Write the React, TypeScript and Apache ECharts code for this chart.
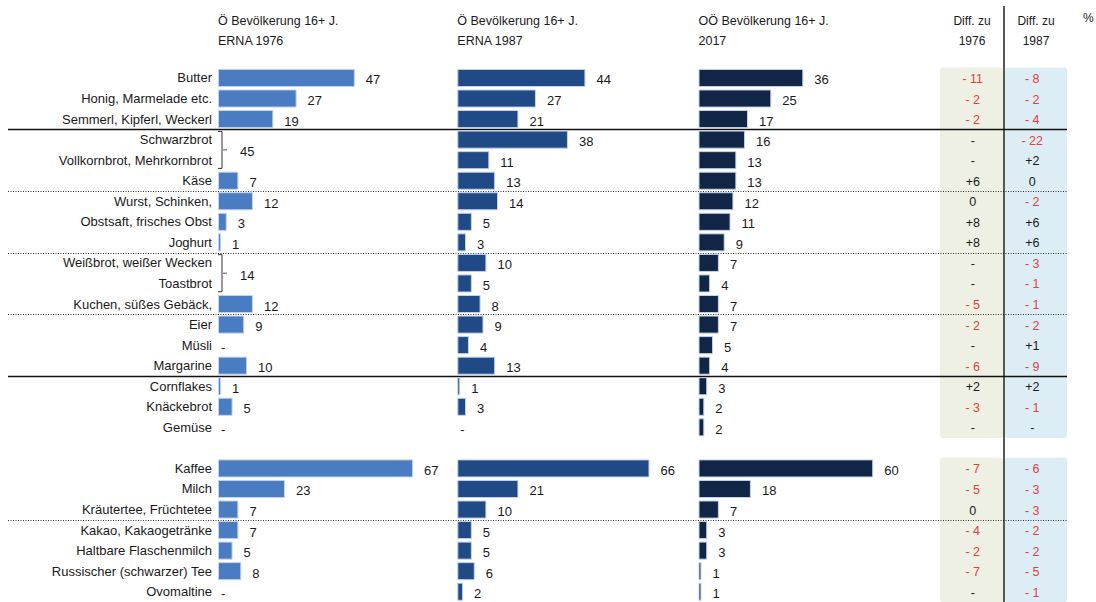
import React, { useEffect, useRef } from "react";
import * as echarts from "echarts";

// ---------- data ----------
const categories = [
  "Butter",
  "Honig, Marmelade etc.",
  "Semmerl, Kipferl, Weckerl",
  "Schwarzbrot",
  "Vollkornbrot, Mehrkornbrot",
  "Käse",
  "Wurst, Schinken,",
  "Obstsaft, frisches Obst",
  "Joghurt",
  "Weißbrot, weißer Wecken",
  "Toastbrot",
  "Kuchen, süßes Gebäck,",
  "Eier",
  "Müsli",
  "Margarine",
  "Cornflakes",
  "Knäckebrot",
  "Gemüse",
  "",
  "Kaffee",
  "Milch",
  "Kräutertee, Früchtetee",
  "Kakao, Kakaogetränke",
  "Haltbare Flaschenmilch",
  "Russischer (schwarzer) Tee",
  "Ovomaltine",
];

// null = no bar (merged rows / gap), "-" = no value shown as dash
const erna1976 = [47, 27, 19, null, null, 7, 12, 3, 1, null, null, 12, 9, "-", 10, 1, 5, "-", null, 67, 23, 7, 7, 5, 8, "-"];
const erna1987 = [44, 27, 21, 38, 11, 13, 14, 5, 3, 10, 5, 8, 9, 4, 13, 1, 3, "-", null, 66, 21, 10, 5, 5, 6, 2];
const ooe2017 = [36, 25, 17, 16, 13, 13, 12, 11, 9, 7, 4, 7, 7, 5, 4, 3, 2, 2, null, 60, 18, 7, 3, 3, 1, 1];

// merged rows in 1976: [fromRow, toRow, value]
const merged1976 = [
  [3, 4, 45],
  [9, 10, 14],
];

// differences of 2017 to 1976 / 1987 (null = "-")
const diff1976 = [-11, -2, -2, null, null, 6, 0, 8, 8, null, null, -5, -2, null, -6, 2, -3, null, undefined, -7, -5, 0, -4, -2, -7, null];
const diff1987 = [-8, -2, -4, -22, 2, 0, -2, 6, 6, -3, -1, -1, -2, 1, -9, 2, -1, null, undefined, -6, -3, -3, -2, -2, -5, -1];

// separator lines below row index
const solidAfter = [2, 14];
const dottedAfter = [5, 8, 11, 21];

// first / last rows of the diff blocks (for rounded corners)
const blockStarts = [0, 19];
const blockEnds = [17, 25];

const panelTitles = [
  ["Ö Bevölkerung 16+ J.", "ERNA 1976"],
  ["Ö Bevölkerung 16+ J.", "ERNA 1987"],
  ["OÖ Bevölkerung 16+ J.", "2017"],
];
const diffTitles = [
  ["Diff. zu", "1976"],
  ["Diff. zu", "1987"],
];

const barColors = ["#4a7cc2", "#1f4a86", "#112646"];

// ---------- layout ----------
const FONT = "Liberation Sans, Arial, sans-serif";
const GRID_TOP = 67.7;
const ROW_H = 20.68;
const GRID_H = ROW_H * categories.length;
const PANEL_LEFT = [218, 457.3, 698.5];
const X_MAX = 80;
const PANEL_W = 2.912 * X_MAX;
const DIFF_LEFT = 940;
const DIFF_W = 127;

const fmtDiff = (v: number | null) => {
  if (v === null) return "-";
  if (v < 0) return "- " + Math.abs(v);
  if (v > 0) return "+" + v;
  return "0";
};

export default function App() {
  const ref = useRef<HTMLDivElement>(null);

  useEffect(() => {
    if (!ref.current) return;
    const chart = echarts.init(ref.current, undefined, { renderer: "svg" });

    const grids: any[] = [];
    const xAxes: any[] = [];
    const yAxes: any[] = [];
    const series: any[] = [];

    const panels = [erna1976, erna1987, ooe2017];
    panels.forEach((vals, i) => {
      grids.push({ left: PANEL_LEFT[i], top: GRID_TOP, width: PANEL_W, height: GRID_H });
      xAxes.push({ type: "value", gridIndex: i, min: 0, max: X_MAX, show: false });
      yAxes.push({
        type: "category",
        gridIndex: i,
        data: categories,
        inverse: true,
        axisLine: { show: false },
        axisTick: { show: false },
        splitLine: { show: false },
        axisLabel: {
          show: i === 0,
          interval: 0,
          margin: 6,
          fontSize: 13,
          fontFamily: FONT,
          color: "#1a1a1a",
        },
      });
      series.push({
        type: "bar",
        xAxisIndex: i,
        yAxisIndex: i,
        barCategoryGap: "12%",
        z: 3,
        itemStyle: { color: barColors[i], borderColor: "#c3d3ea", borderWidth: 1 },
        label: {
          show: true,
          position: "right",
          distance: 11,
          offset: [0, 2],
          fontSize: 13,
          fontFamily: FONT,
          color: "#1a1a1a",
          formatter: (p: any) => (p.data && p.data.dash ? "-" : String(p.value)),
        },
        data: vals.map((v) =>
          v === null
            ? null
            : v === "-"
            ? { value: 0, dash: true, itemStyle: { borderWidth: 0 }, label: { distance: 3 } }
            : v
        ),
      });
    });

    // merged brackets in 1976 panel
    series.push({
      type: "custom",
      xAxisIndex: 0,
      yAxisIndex: 0,
      clip: false,
      z: 4,
      encode: { x: 2, y: 0 },
      data: merged1976,
      renderItem: (params: any, api: any) => {
        const from = api.value(0);
        const to = api.value(1);
        const v = api.value(2);
        const top = api.coord([0, from]);
        const bot = api.coord([0, to]);
        const h = api.size([0, 1])[1];
        const x0 = top[0];
        const y1 = top[1] - h * 0.4;
        const y2 = bot[1] + h * 0.4;
        const ym = (top[1] + bot[1]) / 2;
        return {
          type: "group",
          children: [
            {
              type: "polyline",
              shape: { points: [[x0, y1], [x0 + 4, y1], [x0 + 4, y2], [x0, y2]] },
              style: { stroke: "#333", fill: "none", lineWidth: 1 },
            },
            {
              type: "line",
              shape: { x1: x0 + 5, y1: ym, x2: x0 + 9, y2: ym },
              style: { stroke: "#555", lineWidth: 1 },
            },
            {
              type: "text",
              x: x0 + 22,
              y: ym + 2,
              style: {
                text: String(v),
                fontSize: 13,
                fontFamily: FONT,
                fill: "#1a1a1a",
                verticalAlign: "middle",
                align: "left",
              },
            },
          ],
        };
      },
    });

    // separator lines
    const sepData = [
      ...solidAfter.map((r) => [r, 0]),
      ...dottedAfter.map((r) => [r, 1]),
    ];
    series.push({
      type: "custom",
      xAxisIndex: 0,
      yAxisIndex: 0,
      clip: false,
      z: 1,
      encode: { y: 0 },
      data: sepData,
      renderItem: (params: any, api: any) => {
        const row = api.value(0);
        const dotted = api.value(1) === 1;
        const h = api.size([0, 1])[1];
        const y = Math.round(api.coord([0, row])[1] + h / 2) + 0.5;
        return {
          type: "line",
          z2: dotted ? 5 : 20,
          shape: { x1: 8, y1: y, x2: DIFF_LEFT + DIFF_W, y2: y },
          style: dotted
            ? { stroke: "#333", lineWidth: 1, lineDash: [1, 1.5] }
            : { stroke: "#111", lineWidth: 1.4 },
        };
      },
    });

    // diff columns
    const gi = 3;
    grids.push({ left: DIFF_LEFT, top: GRID_TOP, width: DIFF_W, height: GRID_H });
    xAxes.push({ type: "value", gridIndex: gi, min: 0, max: 2, show: false });
    yAxes.push({ type: "category", gridIndex: gi, data: categories, inverse: true, show: false });
    const diffData: any[] = [];
    [diff1976, diff1987].forEach((arr, col) => {
      arr.forEach((v, row) => {
        if (categories[row] === "") return;
        diffData.push([col, row, v === null ? NaN : v, v === null ? 1 : 0]);
      });
    });
    series.push({
      type: "custom",
      xAxisIndex: gi,
      yAxisIndex: gi,
      clip: false,
      z: 0,
      encode: { x: 0, y: 1 },
      data: diffData,
      renderItem: (params: any, api: any) => {
        const col = api.value(0);
        const row = api.value(1);
        const isNull = api.value(3) === 1;
        const v = isNull ? null : api.value(2);
        const p0 = api.coord([col, row]);
        const p1 = api.coord([col + 1, row]);
        const h = api.size([0, 1])[1];
        const pad = col === 0 ? 0 : 1.5;
        const txt = fmtDiff(v);
        const neg = v !== null && v < 0;
        const rTop = blockStarts.indexOf(row) >= 0 ? 3 : 0;
        const rBot = blockEnds.indexOf(row) >= 0 ? 3 : 0;
        return {
          type: "group",
          children: [
            {
              type: "rect",
              shape: {
                x: p0[0] + pad,
                y: p0[1] - h / 2 - 0.3,
                width: p1[0] - p0[0] - pad,
                height: h + 0.6,
                r: [rTop, rTop, rBot, rBot],
              },
              style: { fill: col === 0 ? "#eef0e4" : "#dcedf5" },
            },
            {
              type: "text",
              x: (p0[0] + p1[0]) / 2 + (col === 0 ? 1 : -3),
              y: p0[1] + 1,
              style: {
                text: txt,
                fontSize: 12.5,
                fontFamily: FONT,
                fill: neg ? "#e2413f" : "#1a1a1a",
                align: "center",
                verticalAlign: "middle",
              },
            },
          ],
        };
      },
    });

    const graphic: any[] = [];
    panelTitles.forEach((t, i) => {
      graphic.push({
        type: "text",
        left: PANEL_LEFT[i],
        top: 11,
        style: { text: t.join("\n"), fontSize: 12.5, lineHeight: 20, fontFamily: FONT, fill: "#1a1a1a" },
      });
    });
    const diffCenters = [972, 1036];
    diffTitles.forEach((t, i) => {
      graphic.push({
        type: "text",
        x: diffCenters[i],
        y: 11,
        style: {
          text: t.join("\n"),
          fontSize: 12,
          lineHeight: 20,
          fontFamily: FONT,
          fill: "#1a1a1a",
          align: "center",
          verticalAlign: "top",
        },
      });
    });
    graphic.push({
      type: "text",
      x: 1083,
      y: 12,
      style: { text: "%", fontSize: 12, fontFamily: FONT, fill: "#1a1a1a" },
    });
    graphic.push({
      type: "line",
      z: 50,
      shape: { x1: 1004, y1: 6, x2: 1004, y2: 602 },
      style: { stroke: "#111", lineWidth: 1.4 },
    });

    chart.setOption({
      animation: false,
      backgroundColor: "#ffffff",
      textStyle: { fontFamily: FONT },
      grid: grids,
      xAxis: xAxes,
      yAxis: yAxes,
      series,
      graphic,
    });

    return () => chart.dispose();
  }, []);

  return (
    <div
      ref={ref}
      style={{ position: "fixed", left: 0, top: 0, width: 1096, height: 602, background: "#fff" }}
    />
  );
}
